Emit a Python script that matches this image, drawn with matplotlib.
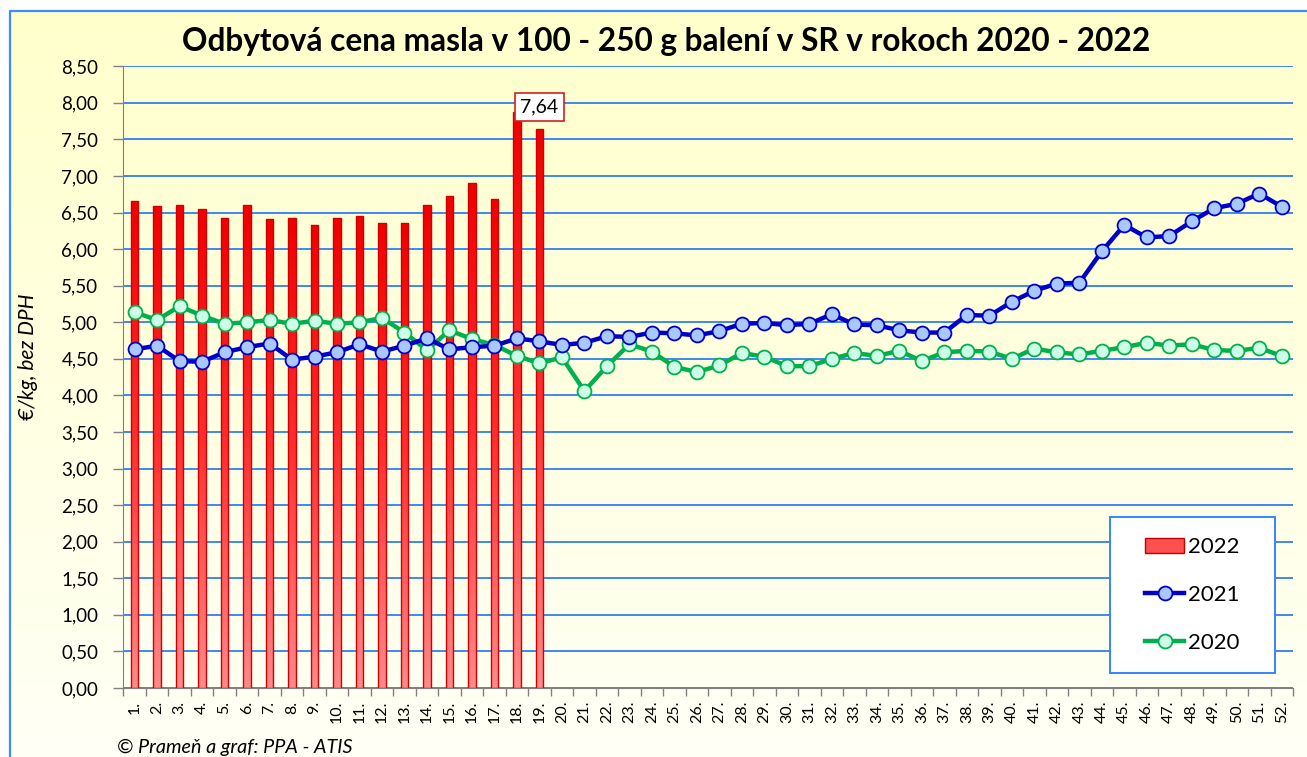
import numpy as np
import matplotlib
matplotlib.use("Agg")
import matplotlib.pyplot as plt
from matplotlib.patches import Rectangle
from matplotlib.lines import Line2D
from matplotlib.colors import LinearSegmentedColormap

# ---------------- data ----------------
weeks = [f"{i}." for i in range(1, 53)]

v2022 = [6.66, 6.59, 6.60, 6.55, 6.42, 6.60, 6.41, 6.42, 6.33, 6.42,
         6.46, 6.36, 6.36, 6.60, 6.73, 6.91, 6.69, 7.88, 7.64]

v2021 = [4.63, 4.68, 4.47, 4.46, 4.59, 4.66, 4.71, 4.49, 4.53, 4.59,
         4.70, 4.60, 4.68, 4.78, 4.63, 4.66, 4.68, 4.78, 4.74, 4.69,
         4.72, 4.81, 4.80, 4.86, 4.85, 4.82, 4.88, 4.98, 4.99, 4.96,
         4.98, 5.11, 4.97, 4.96, 4.89, 4.86, 4.86, 5.10, 5.09, 5.28,
         5.43, 5.53, 5.54, 5.97, 6.33, 6.16, 6.18, 6.38, 6.56, 6.62,
         6.76, 6.58]

v2020 = [5.14, 5.03, 5.22, 5.09, 4.98, 5.00, 5.03, 4.98, 5.02, 4.98,
         5.00, 5.06, 4.86, 4.62, 4.89, 4.77, 4.69, 4.54, 4.44, 4.52,
         4.06, 4.40, 4.70, 4.60, 4.39, 4.32, 4.41, 4.58, 4.53, 4.40,
         4.40, 4.50, 4.58, 4.54, 4.61, 4.47, 4.59, 4.61, 4.60, 4.50,
         4.64, 4.59, 4.56, 4.61, 4.66, 4.72, 4.68, 4.70, 4.62, 4.61,
         4.65, 4.54]

label_week = 19
label_text = "7,64"

title = "Odbytová cena masla v 100 - 250 g balení v SR v rokoch 2020 - 2022"
ylabel = "€/kg, bez DPH"
footer = "© Prameň a graf: PPA - ATIS"
yticks = np.arange(0, 8.51, 0.5)

# ---------------- figure ----------------
W, H = 1307, 757
plt.rcParams['font.family'] = ['Lato', 'DejaVu Sans']
fig = plt.figure(figsize=(W / 100, H / 100), dpi=100)
fig.patch.set_facecolor('white')

# background gradient inside the chart border
bg = fig.add_axes([0, 0, 1, 1], zorder=-10)
bg.set_axis_off()
grad = np.linspace(0, 1, 256).reshape(-1, 1)
cmap_bg = LinearSegmentedColormap.from_list('bg', ['#FFFFF6', '#FFFFCC'])
bg.imshow(grad, cmap=cmap_bg, aspect='auto', origin='lower',
          extent=[10 / W, 1.0, 0.0, 1 - 10 / H], transform=bg.transAxes)
bg.set_xlim(0, 1)
bg.set_ylim(0, 1)
bg.plot([10 / W, 10 / W, 1.0], [0.0, 1 - 10.5 / H, 1 - 10.5 / H],
        color='#3D8BFF', lw=1.6, transform=bg.transAxes, clip_on=False)

ax = fig.add_axes([123.3 / W, 1 - 688 / H, (1293 - 123.3) / W, (688 - 66.3) / H])
ax.patch.set_alpha(0)

x = np.arange(len(weeks))

# bars 2022 with vertical gradient
cmap_bar = LinearSegmentedColormap.from_list('bar', ['#FF8A8A', '#FF3030', '#F00000'])
bw = 0.32
bars = ax.bar(x[:len(v2022)], v2022, width=bw, facecolor='none',
              edgecolor='#D00000', linewidth=1.0, zorder=3)
for b in bars:
    bx, bh = b.get_x(), b.get_height()
    im = ax.imshow(grad, cmap=cmap_bar, aspect='auto', origin='lower',
                   extent=[bx, bx + b.get_width(), 0, bh], zorder=2.5)
    im.set_clip_path(b)

# lines
ax.plot(x, v2021, color='#0000CC', lw=3.2, marker='o', ms=10,
        mfc='#A9C8FF', mec='#0000CC', mew=1.3, zorder=5)
ax.plot(x, v2020, color='#00B050', lw=3.2, marker='o', ms=10,
        mfc='#CCFFE6', mec='#00B050', mew=1.3, zorder=4)

# data label
ax.annotate(label_text, xy=(label_week - 1, v2022[label_week - 1]),
            xytext=(0, 16), textcoords='offset points', ha='center', va='center',
            fontsize=14, color='black', zorder=7,
            bbox=dict(boxstyle='square,pad=0.3', fc='white', ec='#D02020', lw=1.2))

# axes
ax.set_xlim(-0.5, len(weeks) - 0.5)
ax.set_ylim(0, 8.5)
ax.set_yticks(yticks)
ax.set_yticklabels([f"{v:.2f}".replace('.', ',') for v in yticks], fontsize=13.5)
ax.yaxis.grid(True, color='#2F7FEF', lw=1.3, zorder=0)
ax.set_axisbelow(True)
ax.tick_params(axis='y', length=7, width=1, color='#808080', pad=11)

ax.set_xticks(x)
ax.set_xticklabels(weeks, rotation=90, fontsize=11.5)
ax.tick_params(axis='x', which='major', length=0, pad=9)
ax.set_xticks(np.arange(-0.5, len(weeks), 1), minor=True)
ax.tick_params(axis='x', which='minor', length=6, width=1, color='#808080')

for s in ['top', 'right']:
    ax.spines[s].set_visible(False)
ax.spines['left'].set_color('#808080')
ax.spines['bottom'].set_color('#808080')

ax.set_ylabel(ylabel, fontsize=15, style='italic')
ax.yaxis.set_label_coords((38 - 123.3) / (1293 - 123.3), (688 - 357) / (688 - 66.3))

fig.text(666 / W, 1 - 42 / H, title, ha='center', va='center',
         fontsize=22.8, fontweight='bold')
fig.text(117 / W, 1 - 747 / H, footer, ha='left', va='center',
         fontsize=14.2, style='italic')

# legend
lx0, ly0, lx1, ly1 = 1110, 517, 1275, 673
fig.patches.append(Rectangle((lx0 / W, 1 - ly1 / H), (lx1 - lx0) / W, (ly1 - ly0) / H,
                             transform=fig.transFigure, fc='white', ec='#3385FF',
                             lw=1.4, zorder=8))
handles = [
    Rectangle((0, 0), 1, 1, fc='#FF5050', ec='#C00000', lw=1),
    Line2D([], [], color='#0000CC', lw=3.2, marker='o', ms=10, mfc='#A9C8FF',
           mec='#0000CC', mew=1.3),
    Line2D([], [], color='#00B050', lw=3.2, marker='o', ms=10, mfc='#CCFFE6',
           mec='#00B050', mew=1.3),
]
leg = fig.legend(handles, ['2022', '2021', '2020'], loc='center',
                 bbox_to_anchor=((lx0 + lx1) / 2 / W, 1 - (ly0 + ly1) / 2 / H),
                 frameon=False, fontsize=16, handlelength=1.75, handletextpad=0.2,
                 labelspacing=1.25, borderpad=0)
leg.set_zorder(9)

fig.savefig('out.png', dpi=100)
